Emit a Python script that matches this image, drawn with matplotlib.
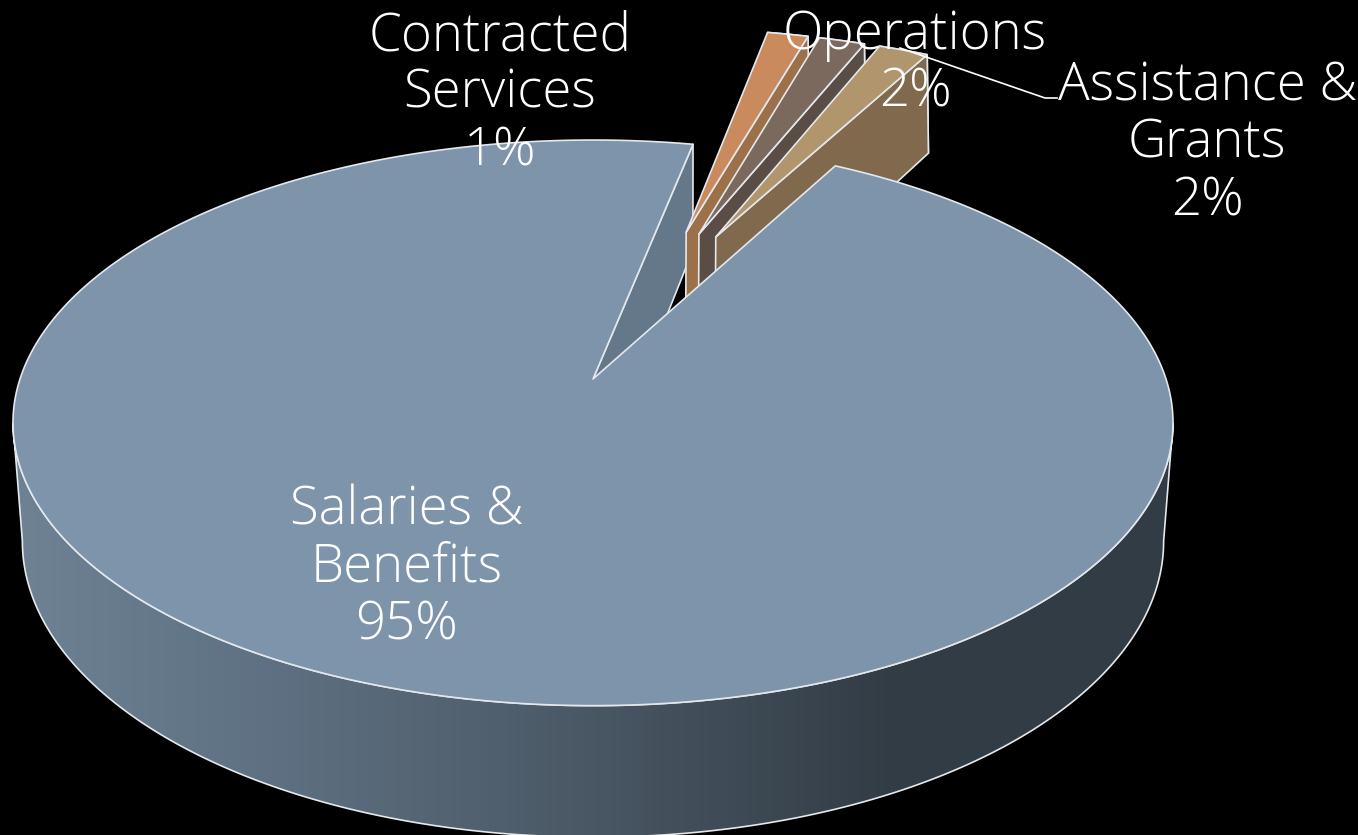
#!/usr/bin/env python
import numpy as np
import matplotlib
matplotlib.use('Agg')
import matplotlib.pyplot as plt
from matplotlib.colors import LinearSegmentedColormap
from matplotlib.patches import Polygon

categories = ['Salaries &\nBenefits', 'Contracted\nServices', 'Operations', 'Assistance &\nGrants']
shares = [95.25, 1.42, 1.6, 1.73]
share_labels = ['95%', '1%', '2%', '2%']

top_colors = ['#7d94ab', '#c98b5e', '#7b695d', '#b0956d']
side_colors = ['#64788a', '#9c7049', '#5a4d45', '#80694c']
edge = '#e4e8ec'

# pull-out of the small slices: direction (deg clockwise from up), same radius
pull_angle = [0, 17.0, 19.4, 22.6]
pull_radius = 0.606
start_angle = 28.7

# (x0, y0, a, h, k) of the two planes of the disc
top_plane = (593, 379, 573, 276, 0.155)
base_plane = (593, 500, 565, 290, 0.14)


def project(plane, x, y):
    x0, y0, a, h, k = plane
    w = 1 + k * np.asarray(y)
    return x0 + a * np.asarray(x) / w, y0 - h * np.asarray(y) / w


def wedge_xy(a1, a2, pull=None):
    t = np.radians(np.linspace(a1, a2, max(int(abs(a2 - a1)) * 2, 8)))
    x = np.concatenate(([0], np.sin(t), [0]))
    y = np.concatenate(([0], np.cos(t), [0]))
    if pull is not None:
        x = x + pull_radius * np.sin(np.radians(pull))
        y = y + pull_radius * np.cos(np.radians(pull))
    return x, y


def face(plane, x, y, color, zorder):
    px, py = project(plane, x, y)
    p = Polygon(np.column_stack([px, py]), closed=True, facecolor=color,
                edgecolor=edge, linewidth=1.2, joinstyle='round', zorder=zorder)
    ax.add_patch(p)
    return p


def side(x, y, color, zorder):
    # wall between the two planes along the line x, y
    tx, ty = project(top_plane, x, y)
    bx, by = project(base_plane, x, y)
    pts = np.column_stack([np.concatenate([tx, bx[::-1]]), np.concatenate([ty, by[::-1]])])
    p = Polygon(pts, closed=True, facecolor=color, edgecolor=edge,
                linewidth=1.2, joinstyle='round', zorder=zorder)
    ax.add_patch(p)
    return p


fig = plt.figure(figsize=(13.58, 8.35), dpi=100, facecolor='black')
ax = fig.add_axes([0, 0, 1, 1])
ax.set_facecolor('black')

spans = np.array(shares) * 3.6
main_end = start_angle + spans[0]

# cut face of the big slice
end = np.radians(main_end)
side(np.array([0, np.sin(end)]), np.array([0, np.cos(end)]), side_colors[0], 1)

# small slices, left to right
a = main_end - 360
for i in range(1, len(shares)):
    b = a + spans[i]
    off_x = pull_radius * np.sin(np.radians(pull_angle[i]))
    off_y = pull_radius * np.cos(np.radians(pull_angle[i]))
    # outer rim then right cut face
    t = np.radians(np.linspace(a, b, 8))
    side(np.sin(t) + off_x, np.cos(t) + off_y, side_colors[i], 2 + i)
    side(np.array([np.sin(t[-1]), 0]) + off_x, np.array([np.cos(t[-1]), 0]) + off_y, side_colors[i], 2 + i)
    x, y = wedge_xy(a, b, pull_angle[i])
    face(top_plane, x, y, top_colors[i], 2 + i)
    a = b

# outer wall of the big slice with a left-to-right shade, from edge to edge of each plane
t = np.radians(np.linspace(60, 300, 481))
tx, ty = project(top_plane, np.sin(t), np.cos(t))
bx, by = project(base_plane, np.sin(t), np.cos(t))
tk = np.arange(np.argmax(tx), np.argmin(tx) + 1)
bk = np.arange(np.argmax(bx), np.argmin(bx) + 1)
wall = Polygon(np.column_stack([np.concatenate([tx[tk], bx[bk][::-1]]),
                                np.concatenate([ty[tk], by[bk][::-1]])]),
               closed=True, facecolor='none', edgecolor=edge, linewidth=1.2, zorder=8)
ax.add_patch(wall)
shade = LinearSegmentedColormap.from_list('wall', [(0, '#6f8395'), (0.15, '#627587'), (0.37, '#505f6d'),
                                                   (0.66, '#323c45'), (1, '#323c45')])
img = ax.imshow(np.linspace(0, 1, 400)[None, :], extent=(0, 1358, 835, 0), aspect='auto',
                cmap=shade, zorder=7)
img.set_clip_path(wall)

# top of the big slice
x, y = wedge_xy(start_angle, main_end)
face(top_plane, x, y, top_colors[0], 9)

# leader line to Assistance & Grants
ax.plot([900, 1045, 1057], [48, 98, 98], color='white', lw=1.2, zorder=10)

label_xy = [(407, 568), (500, 94), (915, 64), (1207, 144)]
for name, pct, (lx, ly) in zip(categories, share_labels, label_xy):
    ax.text(lx, ly, name + '\n' + pct, color='white', ha='center', va='center',
            ma='center', fontsize=38, family='Open Sans', fontweight='light',
            linespacing=1.1, zorder=11)

ax.set_xlim(0, 1358)
ax.set_ylim(835, 0)
ax.axis('off')

fig.savefig('out.png', dpi=100, facecolor='black')
